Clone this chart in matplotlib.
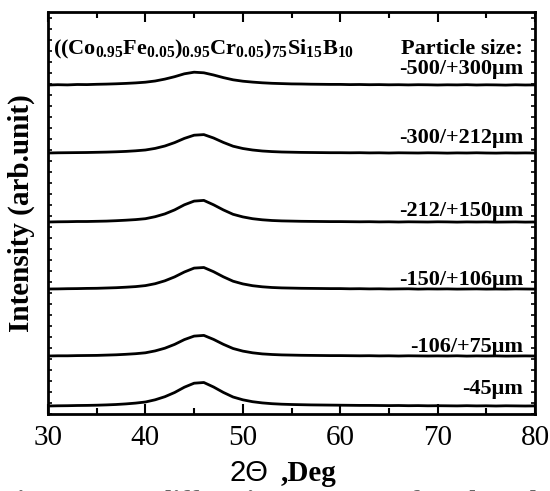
import matplotlib
matplotlib.use("Agg")
import matplotlib.pyplot as plt
import numpy as np

# 2-theta sampling (deg) and stacked intensities (arb. units, offset included)
two_theta = list(range(30, 81))

i_500_300 = [329.0, 329.3, 329.1, 329.5, 329.4, 329.7, 329.9, 330.2, 330.6, 331.1,
             331.8, 333.0, 334.9, 337.3, 340.2, 341.8, 341.2, 339.0, 336.4, 334.2,
             332.8, 331.9, 331.2, 330.7, 330.4, 330.1, 330.0, 329.8, 329.7, 329.6,
             329.6, 329.4, 329.5, 329.3, 329.4, 329.2, 329.3, 329.1, 329.3, 329.2,
             329.0, 329.2, 329.1, 329.3, 329.0, 329.2, 329.1, 328.9, 329.2, 329.0, 329.1]
i_300_212 = [261.0, 261.2, 261.3, 261.4, 261.5, 261.7, 261.9, 262.2, 262.6, 263.2,
             264.0, 265.6, 268.0, 271.4, 275.6, 278.8, 279.4, 276.0, 271.6, 267.8,
             265.5, 264.0, 263.0, 262.4, 262.0, 261.8, 261.6, 261.5, 261.4, 261.3,
             261.3, 261.2, 261.3, 261.1, 261.2, 261.0, 261.2, 261.1, 261.0, 261.2,
             261.1, 260.9, 261.1, 261.0, 261.2, 261.0, 260.9, 261.1, 261.0, 261.1, 261.0]
i_212_150 = [192.0, 192.2, 192.3, 192.5, 192.5, 192.7, 192.9, 193.3, 193.8, 194.4,
             195.3, 197.3, 200.1, 204.1, 209.2, 212.9, 213.6, 209.2, 204.1, 199.7,
             197.1, 195.3, 194.2, 193.5, 193.1, 192.9, 192.7, 192.6, 192.5, 192.4,
             192.4, 192.3, 192.2, 192.3, 192.1, 192.2, 192.0, 192.2, 192.1, 192.0,
             192.2, 192.1, 191.9, 192.1, 192.0, 192.1, 191.9, 192.0, 192.1, 191.9, 192.0]
i_150_106 = [125.0, 125.1, 125.3, 125.4, 125.6, 125.7, 126.0, 126.3, 126.8, 127.4,
             128.4, 130.3, 133.2, 137.1, 142.0, 145.9, 146.5, 142.3, 137.2, 132.8,
             130.1, 128.3, 127.2, 126.5, 126.1, 125.9, 125.7, 125.6, 125.5, 125.4,
             125.4, 125.2, 125.3, 125.1, 125.2, 125.0, 125.1, 125.2, 124.9, 125.1,
             125.0, 125.1, 124.9, 125.0, 125.1, 124.9, 125.0, 124.9, 125.1, 125.0, 124.9]
i_106_75 = [58.0, 58.2, 58.2, 58.4, 58.5, 58.6, 58.9, 59.2, 59.7, 60.3,
            61.2, 63.1, 65.8, 69.6, 74.4, 77.9, 78.6, 74.6, 69.7, 65.5,
            62.9, 61.2, 60.1, 59.5, 59.1, 58.9, 58.7, 58.6, 58.5, 58.4,
            58.4, 58.3, 58.2, 58.3, 58.1, 58.2, 58.0, 58.2, 58.1, 58.0,
            58.1, 58.0, 58.2, 57.9, 58.1, 58.0, 58.1, 57.9, 58.0, 58.1, 58.0]
i_45 = [8.0, 8.2, 8.3, 8.5, 8.6, 8.8, 9.1, 9.5, 10.1, 10.9,
        12.0, 14.2, 17.3, 21.5, 26.8, 30.8, 31.5, 27.0, 21.6, 17.0,
        14.2, 12.3, 11.1, 10.3, 9.8, 9.5, 9.3, 9.1, 9.0, 8.9,
        8.8, 8.7, 8.6, 8.6, 8.5, 8.4, 8.5, 8.3, 8.4, 8.2, 8.3,
        8.2, 8.1, 8.3, 8.1, 8.2, 8.0, 8.2, 8.1, 8.0, 8.1]

traces = [i_500_300, i_300_212, i_212_150, i_150_106, i_106_75, i_45]
size_labels = ["-500/+300\u03bcm", "-300/+212\u03bcm", "-212/+150\u03bcm",
               "-150/+106\u03bcm", "-106/+75\u03bcm", "-45\u03bcm"]
label_y = [345, 276, 203, 134, 67, 25]

serif = "Liberation Serif"
plt.rcParams["mathtext.fontset"] = "custom"
plt.rcParams["mathtext.rm"] = serif
plt.rcParams["mathtext.bf"] = serif + ":bold"

fig = plt.figure(figsize=(5.5, 4.91), dpi=100)
ax = fig.add_axes([48 / 550, 1 - 414 / 491, 487 / 550, 402 / 491])

for y in traces:
    ax.plot(two_theta, y, color="black", lw=2.0, solid_joinstyle="round")

for lab, yl in zip(size_labels, label_y):
    ax.text(78.8, yl, lab, ha="right", va="center", family=serif,
            fontweight="bold", fontsize=16)

ax.text(78.8, 365, "Particle size:", ha="right", va="center", family=serif,
        fontweight="bold", fontsize=16)
ax.text(30.5, 365, r"$\mathbf{((Co_{0.95}Fe_{0.05})_{0.95}Cr_{0.05})_{75}Si_{15}B_{10}}$",
        ha="left", va="center", fontsize=16)

ax.set_xlim(30, 80)
ax.set_ylim(0, 402)
ax.set_xticks(range(30, 81, 10))
ax.set_xticks(range(35, 80, 10), minor=True)
ax.set_yticks(np.arange(0, 402, 11), minor=True)
ax.set_yticks([])
ax.tick_params(axis="x", which="both", direction="in", top=True, width=1.5,
               labelsize=21, pad=8)
ax.tick_params(axis="x", which="major", length=7)
ax.tick_params(axis="x", which="minor", length=4)
ax.tick_params(axis="y", which="minor", direction="in", left=True, right=True,
               length=3, width=1.2)
for lbl in ax.get_xticklabels():
    lbl.set_family(serif)
for sp in ax.spines.values():
    sp.set_linewidth(2)

ax.set_ylabel("Intensity (arb.unit)", family=serif, fontweight="bold",
              fontsize=21, labelpad=6)

ax.text(0.452, -0.147, "2\u0398", transform=ax.transAxes, ha="right", va="center",
        family="Liberation Sans", fontsize=21)
ax.text(0.478, -0.147, ",Deg", transform=ax.transAxes, ha="left", va="center",
        family=serif, fontweight="bold", fontsize=21)

# figure caption, clipped by the bottom edge as in the source page
fig.text(0.0, 0.003, "Fig. 3  X-ray diffraction patterns of Co-based alloy powders",
         ha="left", va="top", family=serif, fontweight="bold", fontsize=20,
         color="#666666")

fig.savefig("out.png", dpi=100)
